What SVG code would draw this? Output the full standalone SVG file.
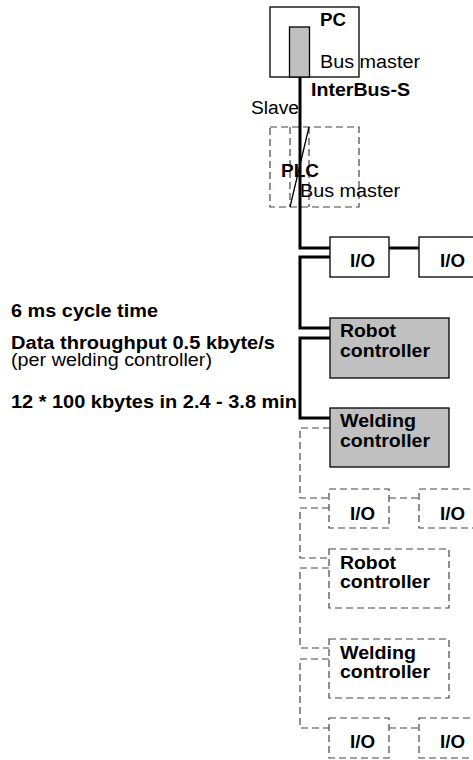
<svg xmlns="http://www.w3.org/2000/svg" width="473" height="760" viewBox="0 0 473 760">
<style>
text{font-family:"Liberation Sans",Arial,sans-serif;font-size:18px;fill:#000}
.b{font-weight:bold}
.box{fill:#fff;stroke:#000;stroke-width:1.3}
.gbox{fill:#c0c0c0;stroke:#000;stroke-width:1.3}
.dbox{fill:none;stroke:#444;stroke-width:1.2;stroke-dasharray:7,4}
.bus{fill:none;stroke:#000;stroke-width:3}
.dbus{fill:none;stroke:#444;stroke-width:1.2;stroke-dasharray:7,4}
</style>
<rect width="473" height="760" fill="#fff"/>
<g id="pc">
<rect class="box" x="270" y="7" width="89" height="70"/>
<rect class="gbox" x="289.5" y="27" width="20" height="50"/>
<text class="b" x="320" y="26" textLength="26" lengthAdjust="spacingAndGlyphs">PC</text>
<text x="320" y="68" textLength="100" lengthAdjust="spacingAndGlyphs">Bus master</text>
</g>
<g id="interbus-label"><text class="b" x="311" y="96" textLength="99" lengthAdjust="spacingAndGlyphs">InterBus-S</text></g>
<g id="slave-label"><text x="251" y="114" textLength="48" lengthAdjust="spacingAndGlyphs">Slave</text></g>
<g id="plc">
<rect class="dbox" x="270" y="127" width="89" height="80"/>
<line class="dbox" x1="290" y1="127" x2="290" y2="207"/>
<line class="dbox" x1="309" y1="127" x2="309" y2="207"/>
<line x1="309" y1="127" x2="290" y2="207" stroke="#000" stroke-width="1.3"/>
<text class="b" x="281" y="177" textLength="38" lengthAdjust="spacingAndGlyphs">PLC</text>
<text x="300" y="197" textLength="100" lengthAdjust="spacingAndGlyphs">Bus master</text>
</g>
<g id="io1"><rect class="box" x="330" y="237" width="59" height="40"/><text class="b" x="350" y="267" textLength="25" lengthAdjust="spacingAndGlyphs">I/O</text></g>
<g id="io2"><rect class="box" x="419" y="237" width="60" height="40"/><text class="b" x="440" y="267" textLength="25" lengthAdjust="spacingAndGlyphs">I/O</text></g>
<g id="robot1"><rect class="gbox" x="330" y="318" width="119" height="60"/><text class="b" x="340" y="337" textLength="56" lengthAdjust="spacingAndGlyphs">Robot</text><text class="b" x="340" y="357" textLength="90" lengthAdjust="spacingAndGlyphs">controller</text></g>
<g id="weld1"><rect class="gbox" x="330" y="408" width="119" height="59"/><text class="b" x="340" y="427" textLength="76" lengthAdjust="spacingAndGlyphs">Welding</text><text class="b" x="340" y="447" textLength="90" lengthAdjust="spacingAndGlyphs">controller</text></g>
<g id="io3"><rect class="dbox" x="329" y="489" width="60" height="39"/><text class="b" x="350" y="520" textLength="25" lengthAdjust="spacingAndGlyphs">I/O</text></g>
<g id="io4"><rect class="dbox" x="419" y="489" width="60" height="39"/><text class="b" x="440" y="520" textLength="25" lengthAdjust="spacingAndGlyphs">I/O</text></g>
<g id="robot2"><rect class="dbox" x="329" y="549" width="120" height="59"/><text class="b" x="340" y="569" textLength="56" lengthAdjust="spacingAndGlyphs">Robot</text><text class="b" x="340" y="588" textLength="90" lengthAdjust="spacingAndGlyphs">controller</text></g>
<g id="weld2"><rect class="dbox" x="329" y="639" width="120" height="59"/><text class="b" x="340" y="659" textLength="76" lengthAdjust="spacingAndGlyphs">Welding</text><text class="b" x="340" y="678" textLength="90" lengthAdjust="spacingAndGlyphs">controller</text></g>
<g id="io5"><rect class="dbox" x="329" y="718" width="60" height="40"/><text class="b" x="350" y="748" textLength="25" lengthAdjust="spacingAndGlyphs">I/O</text></g>
<g id="io6"><rect class="dbox" x="419" y="718" width="60" height="40"/><text class="b" x="440" y="748" textLength="25" lengthAdjust="spacingAndGlyphs">I/O</text></g>
<g id="connectors">
<path class="bus" d="M300 77V248H330M389 248H419M330 257H300V328H330M330 338H300V418H330"/>
<path class="dbus" d="M330 428H300V498H329M389 498H419M329 508H300V558H329M329 568H300V648H329M329 659H300V728H329M389 728H419"/>
</g>
<g id="notes">
<text class="b" x="11" y="317" textLength="147" lengthAdjust="spacingAndGlyphs">6 ms cycle time</text>
<text class="b" x="11" y="349" textLength="264" lengthAdjust="spacingAndGlyphs">Data throughput 0.5 kbyte/s</text>
<text x="11" y="366" textLength="201" lengthAdjust="spacingAndGlyphs">(per welding controller)</text>
<text class="b" x="11" y="408" textLength="286" lengthAdjust="spacingAndGlyphs">12 * 100 kbytes in 2.4 - 3.8 min</text>
</g>
</svg>
